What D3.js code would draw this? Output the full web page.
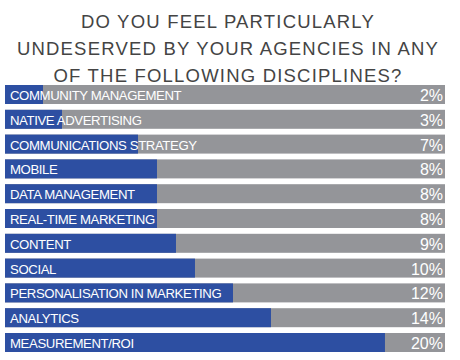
<!DOCTYPE html>
<html>
<head>
<meta charset="utf-8">
<script src="https://cdn.jsdelivr.net/npm/d3@7"></script>
<style>
  html, body { margin: 0; padding: 0; background: #fff; }
</style>
</head>
<body>
<svg id="chart" width="460" height="360"></svg>
<script>
const titleLines = ["DO YOU FEEL PARTICULARLY", "UNDESERVED BY YOUR AGENCIES IN ANY", "OF THE FOLLOWING DISCIPLINES?"];
const categories = ["COMMUNITY MANAGEMENT", "NATIVE ADVERTISING", "COMMUNICATIONS STRATEGY", "MOBILE", "DATA MANAGEMENT", "REAL-TIME MARKETING", "CONTENT", "SOCIAL", "PERSONALISATION IN MARKETING", "ANALYTICS", "MEASUREMENT/ROI"];
const values = [2, 3, 7, 8, 8, 8, 9, 10, 12, 14, 20];
const valueLabels = ["2%", "3%", "7%", "8%", "8%", "8%", "9%", "10%", "12%", "14%", "20%"];

const svg = d3.select("#chart");
const font = "'Liberation Sans', Arial, Helvetica, sans-serif";

svg.append("g").selectAll("text").data(titleLines).join("text")
  .attr("x", 228).attr("y", (d, i) => 28 + i * 27)
  .attr("text-anchor", "middle")
  .attr("font-family", font).attr("font-size", 18.5)
  .attr("letter-spacing", 1.2)
  .attr("fill", "#444")
  .text(d => d);

const x = d3.scaleLinear().domain([0, 23.16]).range([5, 445]);
const y = d3.scaleBand().domain(categories).range([85, 352]).paddingInner(0.234).paddingOuter(0);

const rows = svg.append("g").selectAll("g").data(categories).join("g")
  .attr("transform", d => `translate(0,${y(d)})`);

rows.append("rect")
  .attr("x", x(0)).attr("width", x.range()[1] - x(0))
  .attr("height", y.bandwidth()).attr("fill", "#949599");

rows.append("rect")
  .attr("x", x(0)).attr("width", (d, i) => x(values[i]) - x(0))
  .attr("height", y.bandwidth()).attr("fill", "#2d4fa2");

rows.append("text")
  .attr("x", 10).attr("y", 15)
  .attr("font-family", font).attr("font-size", 13.2)
  .attr("letter-spacing", -0.4)
  .attr("fill", "#fff")
  .text(d => d);

rows.append("text")
  .attr("x", 443).attr("y", 16)
  .attr("text-anchor", "end")
  .attr("font-family", font).attr("font-size", 16)
  .attr("fill", "#fff")
  .text((d, i) => valueLabels[i]);
</script>
</body>
</html>
